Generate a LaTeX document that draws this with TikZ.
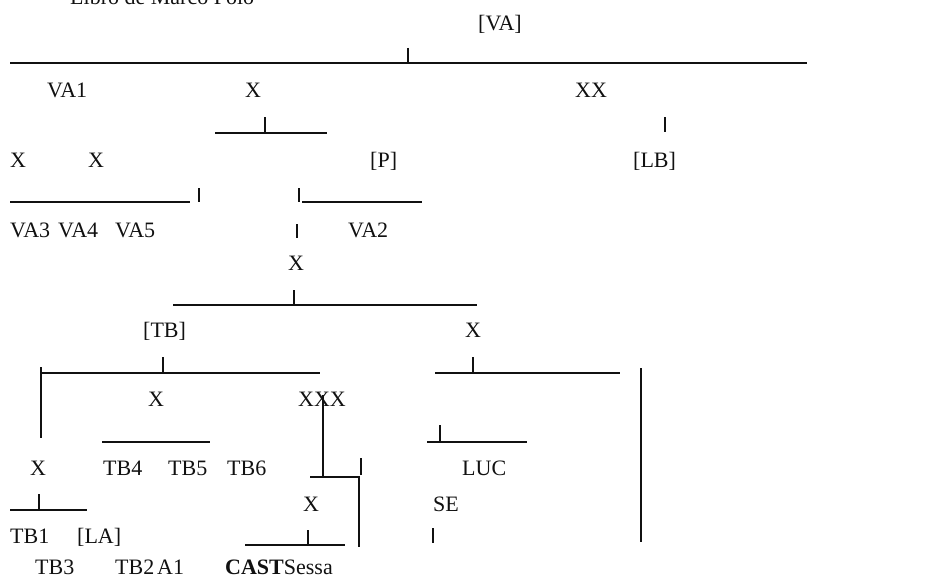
\documentclass[tikz,border=0pt]{standalone}
\usepackage{fontspec}
\setmainfont{Liberation Serif}
\usepackage{xcolor}
\usepackage{tikz}
\definecolor{STInk}{HTML}{111111}

\begin{document}
\begin{tikzpicture}[x=1pt,y=-1pt,
  ms/.style={anchor=base west,inner sep=0pt,text=STInk,font=\fontsize{22}{26}\selectfont},
  rule/.style={STInk,line width=1.1pt}]
\path[use as bounding box] (0,0) rectangle (927,578);
% title, cut by the top edge
\node[ms] (title) at (70,5) {Libro de Marco Polo};
\node[ms] (VA) at (478,31) {[VA]};
\draw[rule] (10,63) -- (807,63);
\draw[rule] (408,48) -- (408,63);
\node[ms] (VA1) at (47,98) {VA1};
\node[ms] (xA) at (245,98) {X};
\node[ms] (XX) at (575,98) {XX};
\draw[rule] (215,133) -- (327,133);
\draw[rule] (265,117) -- (265,133);
\draw[rule] (665,117) -- (665,132);
\node[ms] (xB) at (10,167) {X};
\node[ms] (xC) at (88,167) {X};
\node[ms] (P) at (370,167) {[P]};
\node[ms] (LB) at (633,167) {[LB]};
\draw[rule] (10,202) -- (190,202);
\draw[rule] (199,188) -- (199,202);
\draw[rule] (299,188) -- (299,202);
\draw[rule] (302,202) -- (422,202);
\node[ms] (VA3) at (10,237) {VA3};
\node[ms] (VA4) at (58,237) {VA4};
\node[ms] (VA5) at (115,237) {VA5};
\draw[rule] (297,224) -- (297,238);
\node[ms] (VA2) at (348,237) {VA2};
\node[ms] (xD) at (288,270) {X};
\draw[rule] (294,290) -- (294,305);
\draw[rule] (173,305) -- (477,305);
\node[ms] (TB) at (143,337) {[TB]};
\node[ms] (xE) at (465,337) {X};
% [TB] branch
\draw[rule] (40,373) -- (320,373);
\draw[rule] (163,357) -- (163,373);
\draw[rule] (41,367) -- (41,438);
% X branch
\draw[rule] (435,373) -- (620,373);
\draw[rule] (473,357) -- (473,373);
\draw[rule] (641,368) -- (641,542);
\node[ms] (xF) at (148,406) {X};
\node[ms] (XXX) at (298,406) {XXX};
\draw[rule] (323,395) -- (323,477) -- (359,477) -- (359,547);
\draw[rule] (310,477) -- (323,477);
\draw[rule] (361,458) -- (361,475);
\draw[rule] (102,442) -- (210,442);
\draw[rule] (427,442) -- (527,442);
\draw[rule] (440,425) -- (440,442);
\node[ms] (xG) at (30,475) {X};
\node[ms] (TB4) at (103,475) {TB4};
\node[ms] (TB5) at (168,475) {TB5};
\node[ms] (TB6) at (227,475) {TB6};
\node[ms] (LUC) at (462,475) {LUC};
\draw[rule] (10,510) -- (87,510);
\draw[rule] (39,494) -- (39,510);
\node[ms] (xH) at (303,511) {X};
\node[ms] (SE) at (433,511) {SE};
\node[ms] (TB1) at (10,543) {TB1};
\node[ms] (LA) at (77,543) {[LA]};
\draw[rule] (245,545) -- (345,545);
\draw[rule] (308,530) -- (308,545);
\draw[rule] (433,528) -- (433,543);
\node[ms] (TB3) at (35,574) {TB3};
\node[ms] (TB2) at (115,574) {TB2};
\node[ms] (A1) at (157,574) {A1};
\node[ms] (CAST) at (225,574) {\textbf{CAST}Sessa};
\end{tikzpicture}
\end{document}
